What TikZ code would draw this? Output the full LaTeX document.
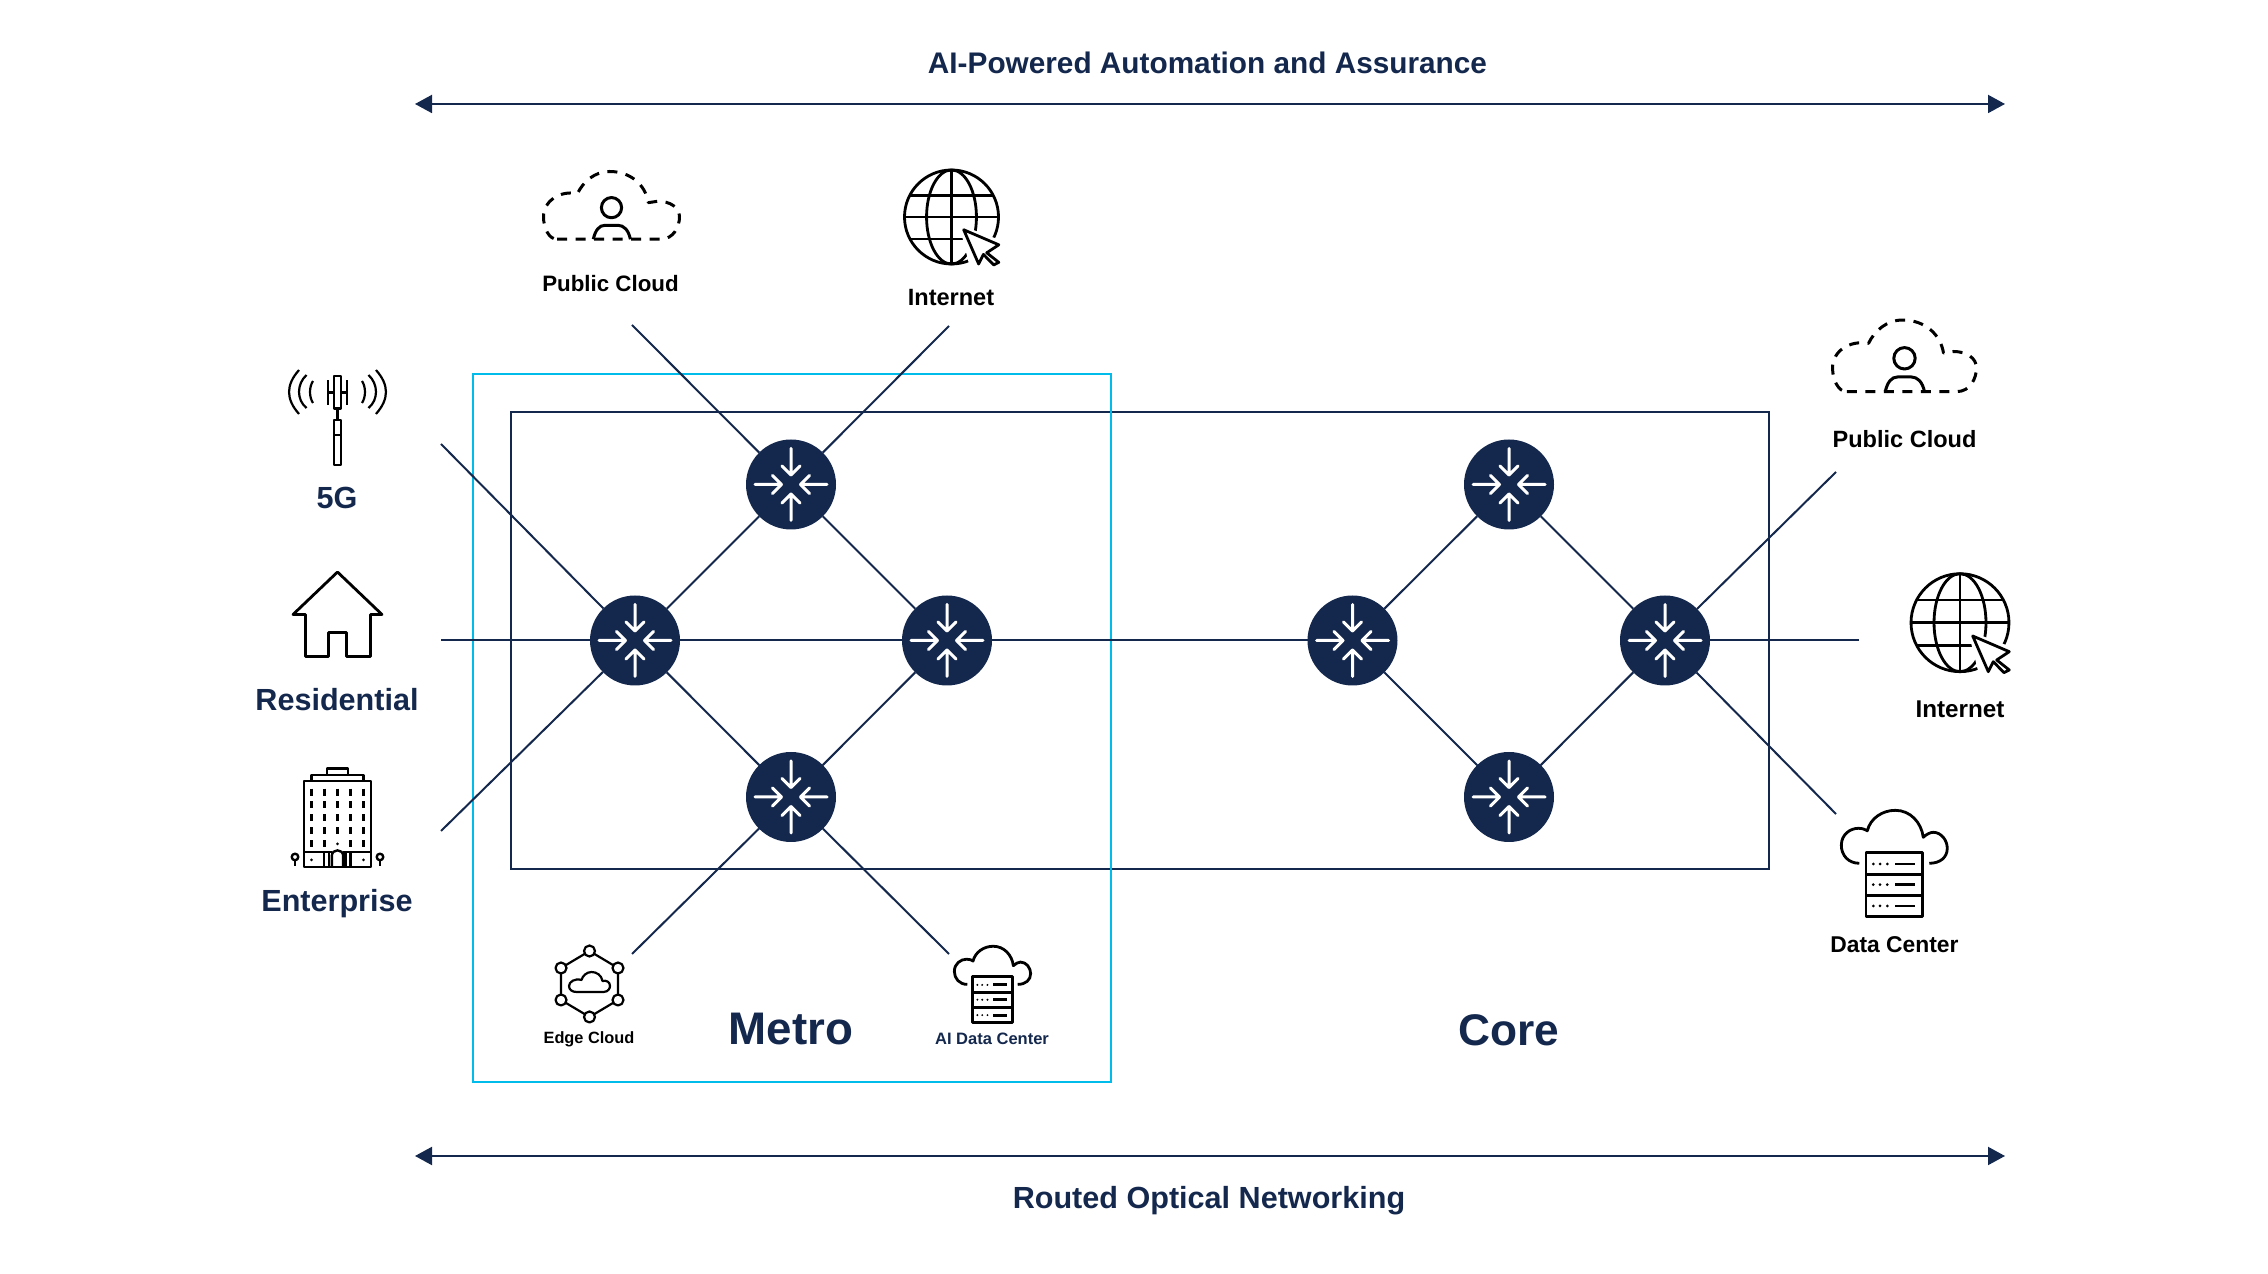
\documentclass[tikz,border=0pt]{standalone}
\usepackage{fontspec}
\setmainfont{Liberation Sans}
\usetikzlibrary{arrows.meta, positioning}
\definecolor{navy}{RGB}{20, 40, 77}
\definecolor{metrocyan}{RGB}{0, 188, 235}
\definecolor{inkblack}{RGB}{0, 0, 0}
\tikzset{
    router/.style={circle, fill=navy, minimum size=0.9cm, inner sep=0pt, outer sep=0pt, path picture={
        \draw[white, line width=0.03cm, line cap=round, line join=round, shift={(path picture bounding box.center)}]
            (0,0.36) -- (0,0.095) (-0.09,0.185) -- (0,0.095) -- (0.09,0.185)
            (0,-0.36) -- (0,-0.095) (-0.09,-0.185) -- (0,-0.095) -- (0.09,-0.185)
            (-0.36,0) -- (-0.095,0) (-0.185,0.09) -- (-0.095,0) -- (-0.185,-0.09)
            (0.36,0) -- (0.095,0) (0.185,0.09) -- (0.095,0) -- (0.185,-0.09);
    }},
    link/.style={navy, line width=0.02cm},
    spanarrow/.style={navy, line width=0.02cm, {Triangle[length=0.17cm,width=0.18cm]}-{Triangle[length=0.17cm,width=0.18cm]}},
    regionbox/.style={rectangle, draw=navy, line width=0.025cm, inner sep=0pt},
    metrobox/.style={rectangle, draw=metrocyan, line width=0.022cm, inner sep=0pt},
    navylabel/.style={text=navy, font=\bfseries\fontsize{#1}{#1}\selectfont, inner sep=0pt},
    blacklabel/.style={text=inkblack, font=\bfseries\fontsize{#1}{#1}\selectfont, inner sep=0pt},
    iconline/.style={draw=inkblack, line width=0.028cm, line join=round, x=0.01cm, y=0.01cm},
    cloudperson/.pic={
        \begin{scope}[iconline]
        \draw[dash pattern=on 0.1cm off 0.085cm, line width=0.03cm] (-57.7,-35.7) -- (52,-35.7) .. controls (66,-35.7) and (72,-22) .. (72,-12)
            .. controls (72,-2) and (62,4.5) .. (49,4.5) -- (39,3) .. controls (36,22) and (20,36) .. (-2,36)
            .. controls (-18,36) and (-30,25) .. (-36,12.7) .. controls (-55,16) and (-72,5) .. (-72,-12)
            .. controls (-72,-24) and (-66,-36) .. (-57.7,-35.7);
        \draw[line width=0.03cm] (0,-2.3) circle (10.7);
        \draw[line width=0.03cm] (-19.3,-35.7) .. controls (-17,-26) and (-13,-21) .. (-7,-21) -- (7,-21) .. controls (13,-21) and (18,-26) .. (20,-35.7);
        \end{scope}
    },
    globecursor/.pic={
        \begin{scope}[iconline]
        \draw (0,0) circle (49);
        \draw (0,0) ellipse (26 and 49);
        \draw (0,49) -- (0,-49);
        \draw (-49,0) -- (49,0);
        \draw (-43.4,22.7) -- (43.4,22.7);
        \draw (-43.4,-23) -- (43.4,-23);
        \fill[white] (8,-8) -- (56,-26) -- (56,-56) -- (20,-56) -- cycle;
        \draw[fill=white] (12.7,-13.3) -- (49.3,-29) -- (36.7,-37.3) -- (49.3,-47.3) -- (44,-50) -- (33.3,-39) -- (28.3,-49) -- cycle;
        \end{scope}
    },
    cloudserver/.pic={
        \begin{scope}[iconline]
        \draw (-35,0) .. controls (-46,0) and (-53,8) .. (-53,18) .. controls (-53,29) and (-44,35) .. (-36,35)
            .. controls (-32,35) and (-29,34) .. (-27,32.5) .. controls (-24,45) and (-12,53) .. (1,53)
            .. controls (16,53) and (27,41) .. (29,26) .. controls (32,29) and (36,31) .. (39,31)
            .. controls (47,31) and (53,23) .. (53,15) .. controls (53,6) and (46,0) .. (35,0);
        \draw (-28.3,10.7) rectangle (28.3,-53.3);
        \draw (-28.3,-11.3) -- (28.3,-11.3) (-28.3,-32.3) -- (28.3,-32.3);
        \foreach \rowy in {-0.7,-21.3,-42.7} {
            \foreach \dotx in {-21,-14.3,-7}
                \fill[inkblack] (\dotx,\rowy) circle (1.5);
            \draw (0.7,\rowy) -- (20.7,\rowy);
        }
        \end{scope}
    },
    edgecloud/.pic={
        \begin{scope}[iconline, line width=0.022cm]
        \draw (-28.5,-16) -- (-28.5,16) -- (0,33) -- (28.5,16) -- (28.5,-16) -- (0,-33) -- cycle;
        \foreach \px/\py in {0/33,-28.5/16,28.5/16,-28.5/-16,28.5/-16,0/-33}
            \draw[fill=white] (\px,\py) circle (5.5);
        \draw (-13,-8) -- (14,-8) .. controls (19,-8) and (20.5,-4) .. (20.5,-2) .. controls (20.5,2) and (17,4) .. (13,3)
            .. controls (12,9) and (7,12) .. (2,12) .. controls (-3,12) and (-7,8) .. (-8,4)
            .. controls (-15,6) and (-20.5,2) .. (-20.5,-2) .. controls (-20.5,-6) and (-17,-8) .. (-13,-8) -- cycle;
        \end{scope}
    },
    tower/.pic={
        \begin{scope}[iconline, line width=0.022cm]
        \draw (-9.8,25) -- (-9.8,0) (9.5,25) -- (9.5,0) (-9.8,12.5) -- (9.5,12.5);
        \draw[fill=white] (-3.5,29) rectangle (3.5,-3.5);
        \draw (0,-3.5) -- (0,-15);
        \draw (-3.5,-15) rectangle (3.5,-60);
        \draw (-3.5,-30) -- (3.5,-30);
        \foreach \sgn in {-1,1} {
            \draw (\sgn*24.5,24) .. controls (\sgn*28.5,18) and (\sgn*28.5,8) .. (\sgn*24.5,2);
            \draw (\sgn*31,30) .. controls (\sgn*41,21) and (\sgn*41,5) .. (\sgn*31,-3);
            \draw (\sgn*38.5,35) .. controls (\sgn*51.8,20) and (\sgn*51.8,6) .. (\sgn*38.5,-9);
        }
        \end{scope}
    },
    housepic/.pic={
        \begin{scope}[iconline]
        \draw (0,42.5) -- (44.5,0) -- (33,0) -- (33,-42) -- (9,-42) -- (9,-18) -- (-9,-18) -- (-9,-42) -- (-32,-42) -- (-32,0) -- (-44.5,0) -- cycle;
        \end{scope}
    },
    buildingpic/.pic={
        \begin{scope}[iconline, line width=0.024cm]
        \draw (-33.5,36) rectangle (33.5,-50);
        \draw (-26,36) -- (-26,42) -- (26,42) -- (26,36);
        \draw (-10.5,42) -- (-10.5,48.5) -- (10.5,48.5) -- (10.5,42);
        \foreach \colx in {-26,-13,0,13,26}
            \foreach \rowy in {25,12.5,-1,-14}
                \draw (\colx,\rowy+3.5) -- (\colx,\rowy-3.5);
        \foreach \colx in {-26,-13,13,26}
            \draw (\colx,-23.5) -- (\colx,-30.5);
        \fill[inkblack] (0,-27) circle (1.5) (-26,-43) circle (1.5) (26,-43) circle (1.5);
        \draw (-33.5,-35) -- (-6,-35) (6,-35) -- (33.5,-35);
        \draw (-5.7,-50) -- (-5.7,-39) .. controls (-5.7,-31.5) and (5.7,-31.5) .. (5.7,-39) -- (5.7,-50);
        \draw (-13.5,-35) -- (-13.5,-50) (-8.5,-35) -- (-8.5,-50) (8,-35) -- (8,-50) (13,-35) -- (13,-50);
        \foreach \sgn in {-1,1} {
            \draw (\sgn*42.5,-40) circle (3.3);
            \draw (\sgn*42.5,-43.3) -- (\sgn*42.5,-49);
        }
        \end{scope}
    }
}
\begin{document}
\begin{tikzpicture}
    \useasboundingbox (0,0) rectangle (22.68,-12.74);

    % Region boxes
    \node[regionbox, minimum width=12.58cm, minimum height=4.57cm] (ringbox) at (11.40, -6.405) {};
    \node[metrobox, minimum width=6.38cm, minimum height=7.08cm] (metrozone) at (7.92, -7.28) {};

    % Metro routers
    \node[router] (mleft) at (6.35, -6.405) {};
    \node[router] (mtop) at (7.91, -4.845) {};
    \node[router] (mright) at (9.47, -6.405) {};
    \node[router] (mbottom) at (7.91, -7.97) {};

    % Core routers
    \node[router] (cleft) at (13.525, -6.405) {};
    \node[router] (ctop) at (15.09, -4.845) {};
    \node[router] (cright) at (16.65, -6.405) {};
    \node[router] (cbottom) at (15.09, -7.97) {};

    % Free ends
    \coordinate (fivegend) at (4.41, -4.44);
    \coordinate (homeend) at (4.41, -6.405);
    \coordinate (bizend) at (4.41, -8.31);
    \coordinate (pcloudend) at (6.32, -3.25);
    \coordinate (webend) at (9.49, -3.26);
    \coordinate (edgeend) at (6.32, -9.54);
    \coordinate (aidcend) at (9.49, -9.54);
    \coordinate (pcloudtwoend) at (18.36, -4.72);
    \coordinate (webtwoend) at (18.59, -6.405);
    \coordinate (dcend) at (18.36, -8.14);
    \coordinate (arrowtl) at (4.15, -1.04);
    \coordinate (arrowtr) at (20.05, -1.04);
    \coordinate (arrowbl) at (4.15, -11.56);
    \coordinate (arrowbr) at (20.05, -11.56);

    % Links
    \draw[link] (mleft) -- (mtop);
    \draw[link] (mtop) -- (mright);
    \draw[link] (mleft) -- (mbottom);
    \draw[link] (mbottom) -- (mright);
    \draw[link] (mleft) -- (mright);
    \draw[link] (mright) -- (cleft);
    \draw[link] (cleft) -- (ctop);
    \draw[link] (ctop) -- (cright);
    \draw[link] (cleft) -- (cbottom);
    \draw[link] (cbottom) -- (cright);

    % Links to the outside
    \draw[link] (fivegend) -- (mleft);
    \draw[link] (homeend) -- (mleft);
    \draw[link] (bizend) -- (mleft);
    \draw[link] (pcloudend) -- (mtop);
    \draw[link] (webend) -- (mtop);
    \draw[link] (edgeend) -- (mbottom);
    \draw[link] (aidcend) -- (mbottom);
    \draw[link] (pcloudtwoend) -- (cright);
    \draw[link] (webtwoend) -- (cright);
    \draw[link] (dcend) -- (cright);

    % Span arrows
    \draw[spanarrow] (arrowtl) -- (arrowtr);
    \draw[spanarrow] (arrowbl) -- (arrowbr);

    % Icons
    \pic at (3.375,-4.05) {tower};
    \pic at (3.375,-6.145) {housepic};
    \pic at (3.375,-8.17) {buildingpic};
    \pic[scale=0.945] at (6.115,-2.055) {cloudperson};
    \pic[scale=0.96] at (9.515,-2.17) {globecursor};
    \pic at (19.045,-3.56) {cloudperson};
    \pic at (19.60,-6.227) {globecursor};
    \pic at (18.943,-8.633) {cloudserver};
    \pic[scale=0.72] at (9.925,-9.844) {cloudserver};
    \pic at (5.895,-9.84) {edgecloud};

    % Labels
    \node[navylabel=8.47pt] (toptitle) at (12.075, -0.625) {AI-Powered Automation and Assurance};
    \node[navylabel=8.7pt] (bottomtitle) at (12.09, -12.01) {Routed Optical Networking};
    \node[navylabel=8.7pt] (fivegtext) at (3.37, -4.975) {5G};
    \node[navylabel=8.7pt] (hometext) at (3.37, -7.00) {Residential};
    \node[navylabel=8.7pt] (biztext) at (3.37, -9.035) {Enterprise};
    \node[blacklabel=6.35pt] (pcloudtext) at (6.105, -2.84) {Public Cloud};
    \node[blacklabel=6.7pt] (webtext) at (9.51, -2.98) {Internet};
    \node[blacklabel=6.7pt] (pcloudtwotext) at (19.045, -4.39) {Public Cloud};
    \node[blacklabel=6.9pt] (webtwotext) at (19.60, -7.09) {Internet};
    \node[blacklabel=6.5pt] (dctext) at (18.945, -9.445) {Data Center};
    \node[blacklabel=4.65pt] (edgetext) at (5.89, -10.395) {Edge Cloud};
    \node[navylabel=4.7pt] (aidctext) at (9.92, -10.385) {AI Data Center};
    \node[navylabel=13pt] (metrotext) at (7.91, -10.29) {Metro};
    \node[navylabel=12.6pt] (coretext) at (15.09, -10.30) {Core};
\end{tikzpicture}
\end{document}
